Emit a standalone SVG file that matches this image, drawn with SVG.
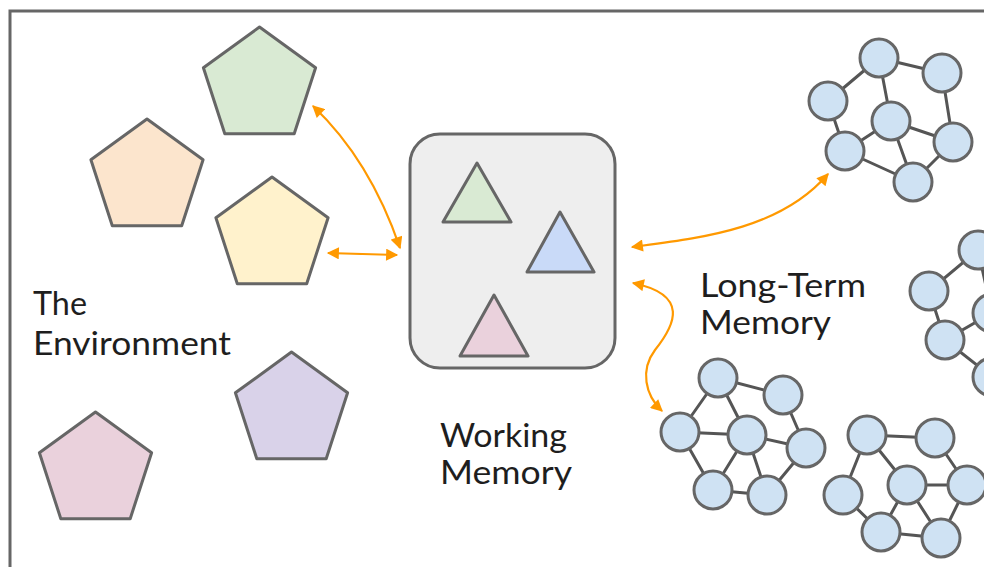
<svg xmlns="http://www.w3.org/2000/svg" width="984" height="567" viewBox="0 0 984 567">
<defs>
<style>
.pent{stroke:#666;stroke-width:3;stroke-linejoin:round}
.tri{stroke:#666;stroke-width:3;stroke-linejoin:round}
.nd{fill:#cfe2f3;stroke:#666;stroke-width:3}
.ed{stroke:#555;stroke-width:3;fill:none}
.arr{stroke:#ff9900;stroke-width:2.2;fill:none;marker-start:url(#ah);marker-end:url(#ah)}
.lbl{font-family:Lato,"Liberation Sans",sans-serif;font-size:32px;fill:#1e1e1e}
</style>
<marker id="ah" viewBox="0 0 10 10" refX="9" refY="5" markerWidth="6.5" markerHeight="5.5" orient="auto-start-reverse" markerUnits="strokeWidth">
<path d="M0,0 L10,5 L0,10 z" fill="#ff9900"/>
</marker>
<polygon id="pg" points="0,-59 56.1,-18.2 34.7,47.7 -34.7,47.7 -56.1,-18.2"/>
</defs>
<rect width="984" height="567" fill="#fff"/>
<path d="M10,567 V11 H984" fill="none" stroke="#666" stroke-width="3"/>

<g id="env-green"><use href="#pg" x="259.5" y="86" class="pent" fill="#d9ead3"/></g>
<g id="env-peach"><use href="#pg" x="147" y="178" class="pent" fill="#fce5cd"/></g>
<g id="env-yellow"><use href="#pg" x="272" y="236" class="pent" fill="#fff2cc"/></g>
<g id="env-purple"><use href="#pg" x="291.5" y="411" class="pent" fill="#d9d2e9"/></g>
<g id="env-pink"><use href="#pg" x="95.5" y="471" class="pent" fill="#ead1dc"/></g>

<g id="environment-label">
<text class="lbl" x="33" y="315" textLength="54" lengthAdjust="spacingAndGlyphs">The</text>
<text class="lbl" x="33" y="355" textLength="198" lengthAdjust="spacingAndGlyphs">Environment</text>
</g>

<g id="working-memory">
<rect x="410" y="134" width="205" height="234" rx="30" fill="#eeeeee" stroke="#666" stroke-width="3"/>
<polygon class="tri" fill="#d9ead3" points="477,163 511,222 443,222"/>
<polygon class="tri" fill="#c9daf8" points="560,212 594,272 527,272"/>
<polygon class="tri" fill="#ead1dc" points="494,295 528,356 460,356"/>
</g>
<g id="working-memory-label">
<text class="lbl" x="440" y="447" textLength="127" lengthAdjust="spacingAndGlyphs">Working</text>
<text class="lbl" x="440" y="484" textLength="132" lengthAdjust="spacingAndGlyphs">Memory</text>
</g>

<g id="ltm-label">
<text class="lbl" x="700" y="297" textLength="166" lengthAdjust="spacingAndGlyphs">Long-Term</text>
<text class="lbl" x="700" y="334" textLength="131" lengthAdjust="spacingAndGlyphs">Memory</text>
</g>

<g id="network-1">
<path class="ed" d="M879,58 L828,101 M879,58 L942,73 M879,58 L891,121 M942,73 L953,142 M891,121 L953,142 M891,121 L845,151 M891,121 L913,182 M845,151 L913,182 M845,151 L828,101 M953,142 L913,182"/>
<circle class="nd" cx="879" cy="58" r="19"/>
<circle class="nd" cx="942" cy="73" r="19"/>
<circle class="nd" cx="828" cy="101" r="19"/>
<circle class="nd" cx="891" cy="121" r="19"/>
<circle class="nd" cx="845" cy="151" r="19"/>
<circle class="nd" cx="953" cy="142" r="19"/>
<circle class="nd" cx="913" cy="182" r="19"/>
</g>

<g id="network-2">
<path class="ed" d="M978,250 L929,291 M978,250 L992,313 M929,291 L945,340 M945,340 L992,313 M945,340 L992,377"/>
<circle class="nd" cx="978" cy="250" r="19"/>
<circle class="nd" cx="929" cy="291" r="19"/>
<circle class="nd" cx="992" cy="313" r="19"/>
<circle class="nd" cx="945" cy="340" r="19"/>
<circle class="nd" cx="992" cy="377" r="19"/>
</g>

<g id="network-3">
<path class="ed" d="M718,378 L783,395 M718,378 L680,432 M718,378 L747,435 M783,395 L806,448 M680,432 L747,435 M747,435 L806,448 M680,432 L713,490 M747,435 L713,490 M747,435 L767,495 M713,490 L767,495 M767,495 L806,448"/>
<circle class="nd" cx="718" cy="378" r="19"/>
<circle class="nd" cx="783" cy="395" r="19"/>
<circle class="nd" cx="680" cy="432" r="19"/>
<circle class="nd" cx="747" cy="435" r="19"/>
<circle class="nd" cx="806" cy="448" r="19"/>
<circle class="nd" cx="713" cy="490" r="19"/>
<circle class="nd" cx="767" cy="495" r="19"/>
</g>

<g id="network-4">
<path class="ed" d="M867,435 L935,438 M867,435 L843,495 M867,435 L907,485 M935,438 L967,485 M907,485 L967,485 M843,495 L881,532 M907,485 L881,532 M907,485 L941,538 M881,532 L941,538 M967,485 L941,538"/>
<circle class="nd" cx="867" cy="435" r="19"/>
<circle class="nd" cx="935" cy="438" r="19"/>
<circle class="nd" cx="843" cy="495" r="19"/>
<circle class="nd" cx="907" cy="485" r="19"/>
<circle class="nd" cx="967" cy="485" r="19"/>
<circle class="nd" cx="881" cy="532" r="19"/>
<circle class="nd" cx="941" cy="538" r="19"/>
</g>

<g id="connectors">
<path class="arr" d="M313,106 Q370,160 400,248"/>
<path class="arr" d="M328,253 L397,255"/>
<path class="arr" d="M632,247 C700,238 780,230 828,174"/>
<path class="arr" d="M633,283 C690,295 675,325 655,350 C640,370 645,395 662,411"/>
</g>
</svg>
